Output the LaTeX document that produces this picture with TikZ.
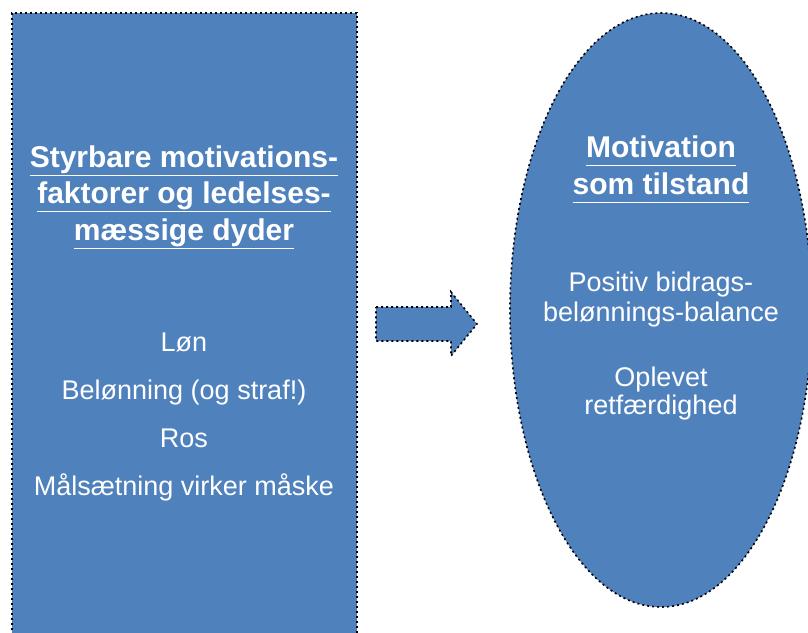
\documentclass[tikz,border=0pt]{standalone}
\usepackage{fontspec}
\setmainfont{Liberation Sans}
\usetikzlibrary{shapes.geometric}
\definecolor{boxblue}{RGB}{79,129,189}
\newcommand{\hdline}[1]{\underline{#1\vphantom{gy}}}

\begin{document}
\begin{tikzpicture}[x=1pt,y=-1pt,
    shapebox/.style={fill=boxblue,draw=black,line width=1.6pt,dash pattern=on 2pt off 3pt},
    headtext/.style={text=white,font=\bfseries\fontsize{30}{36.5}\selectfont,align=center,inner sep=0pt},
    bodytext/.style={text=white,font=\fontsize{27}{30}\selectfont,align=center,inner sep=0pt}]
  \useasboundingbox (0,0) rectangle (808,632);
  \clip (0,0) rectangle (808,632);

  \node[shapebox,rectangle,minimum width=345pt,minimum height=640pt,inner sep=0pt] (factors) at (184.5,333) {};
  \node[shapebox,ellipse,minimum width=302pt,minimum height=594pt,inner sep=0pt] (state) at (661,310) {};
  \draw[shapebox] (376,307) -- (451,307) -- (451,292) -- (477,324)
    -- (451,356) -- (451,341) -- (376,341) -- cycle;

  \node[headtext,anchor=base] (factorshead) at (184,240)
    {\hdline{Styrbare motivations-}\\\hdline{faktorer og ledelses-}\\\hdline{mæssige dyder}};
  \node[bodytext,font=\fontsize{27}{47.7}\selectfont,anchor=base] (factorslist) at (184,495)
    {Løn\\Belønning (og straf!)\\Ros\\Målsætning virker måske};

  \node[headtext,font=\bfseries\fontsize{30}{37}\selectfont,anchor=base] (statehead) at (661,194)
    {\hdline{Motivation}\\\hdline{som tilstand}};
  \node[bodytext,anchor=base] (balance) at (661,321)
    {Positiv bidrags-\\belønnings-balance};
  \node[bodytext,font=\fontsize{27}{28}\selectfont,anchor=base] (fairness) at (661,414)
    {Oplevet\\retfærdighed};
\end{tikzpicture}
\end{document}
